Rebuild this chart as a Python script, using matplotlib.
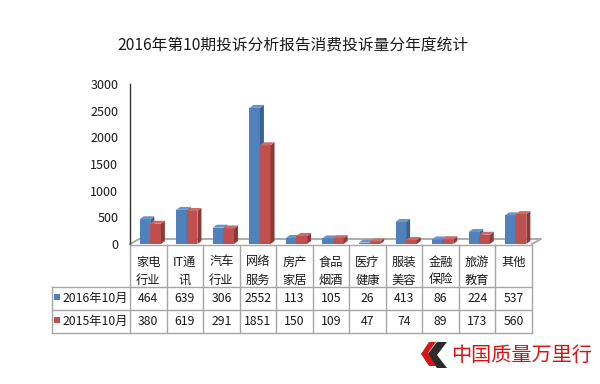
import numpy as np
import matplotlib
matplotlib.use('Agg')
import matplotlib.pyplot as plt
from matplotlib.patches import Polygon

plt.rcParams['font.family'] = ['Noto Sans CJK SC', 'DejaVu Sans']

# data
categories = ['家电\n行业', 'IT通\n讯', '汽车\n行业', '网络\n服务', '房产\n家居', '食品\n烟酒',
              '医疗\n健康', '服装\n美容', '金融\n保险', '旅游\n教育', '其他']
series_names = ['2016年10月', '2015年10月']
v2016 = [464, 639, 306, 2552, 113, 105, 26, 413, 86, 224, 537]
v2015 = [380, 619, 291, 1851, 150, 109, 47, 74, 89, 173, 560]
yticks = [0, 500, 1000, 1500, 2000, 2500, 3000]
title = '2016年第10期投诉分析报告消费投诉量分年度统计'

blue = ['#4F81BD', '#3A6290', '#6A95CC']   # front, side, top
red = ['#C0504D', '#8A3A38', '#CD6966']
grid_c = '#A6A6A6'
txt_c = '#1A1A1A'

W, H = 600, 384
fig = plt.figure(figsize=(W / 100, H / 100), dpi=100)
fig.patch.set_facecolor('white')

# main plot area, pixel box: x 130..532, y 84..244
ax = fig.add_axes([130 / W, (H - 244) / H, 402 / W, 160 / H])
n = len(categories)
x = np.arange(n)
ax.set_xlim(-0.5, n - 0.5)
ax.set_ylim(0, 3000)
ax.set_yticks(yticks)
ax.set_xticks([])
ax.tick_params(axis='y', length=0, pad=8.5, labelsize=9, labelcolor=txt_c)
for s in ['top', 'right', 'bottom']:
    ax.spines[s].set_visible(False)
ax.spines['left'].set_linewidth(1.0)
ax.spines['left'].set_color('#303030')
ax.patch.set_alpha(0)

# depth in data units
px_x = 1 / 36.5
px_y = 3000 / 160
dx, dy = 4 * px_x, 3 * px_y
fdx, fdy = 9 * px_x, 5 * px_y

# floor
ax.plot([-0.5, -0.5 + fdx, n - 0.5 + fdx, n - 0.5],
        [0, fdy, fdy, 0], color=grid_c, lw=1.3, clip_on=False, zorder=1)

w = 0.29


def bar3d(xc, h, cols):
    x0, x1 = xc - w / 2, xc + w / 2
    ax.bar(xc, h, width=w, color=cols[0], zorder=3, linewidth=0)
    side = Polygon([(x1, 0), (x1 + dx, dy), (x1 + dx, h + dy), (x1, h)],
                   closed=True, facecolor=cols[1], edgecolor='none', zorder=3, clip_on=False)
    top = Polygon([(x0, h), (x0 + dx, h + dy), (x1 + dx, h + dy), (x1, h)],
                  closed=True, facecolor=cols[2], edgecolor='none', zorder=3, clip_on=False)
    ax.add_patch(side)
    ax.add_patch(top)


for i in range(n):
    bar3d(x[i] - 0.09, v2016[i], blue)
    bar3d(x[i] + 0.20, v2015[i], red)

# title
fig.text(293 / W, 1 - 46 / H, title, ha='center', va='center', fontsize=11.3, color=txt_c)

# data table below the plot, pixel box y 245..333
ta = fig.add_axes([130 / W, (H - 333) / H, 402 / W, 88 / H])
ta.set_xlim(-0.5, n - 0.5)
ta.set_ylim(88, 0)
ta.axis('off')
left_x = -0.5 - 78 / 36.5
rows_y = [0, 42, 65, 88]
lkw = dict(color=grid_c, lw=1.0, clip_on=False)
ta.plot([-0.5, n - 0.5], [0, 0], **lkw)
for yb in rows_y[1:]:
    ta.plot([left_x, n - 0.5], [yb, yb], **lkw)
for k in range(n + 1):
    ta.plot([k - 0.5, k - 0.5], [0, 88], **lkw)
ta.plot([left_x, left_x], [42, 88], **lkw)

for i, c in enumerate(categories):
    parts = c.split('\n')
    for j, p in enumerate(parts):
        ta.text(x[i], 17 + 18 * j, p, ha='center', va='center', fontsize=8.8, color=txt_c)
    ta.text(x[i], 53.5, str(v2016[i]), ha='center', va='center', fontsize=8.8, color=txt_c)
    ta.text(x[i], 76.5, str(v2015[i]), ha='center', va='center', fontsize=8.8, color=txt_c)

for r, (name, col) in enumerate(zip(series_names, [blue[0], red[0]])):
    yc = 53.5 + 23 * r
    ta.scatter([left_x + 0.14], [yc - 1.5], marker='s', s=22, color=col, clip_on=False, linewidths=0)
    ta.text(left_x + 0.28, yc, name, ha='left', va='center', fontsize=8.8, color=txt_c)

# watermark logo
lg = fig.add_axes([0, 0, 1, 1])
lg.set_xlim(0, W)
lg.set_ylim(H, 0)
lg.axis('off')
lg.add_patch(Polygon([(437, 342), (447, 342), (437, 355), (447, 368), (437, 368), (427, 355)],
                     closed=True, facecolor='#2B2B2B', edgecolor='none'))
lg.add_patch(Polygon([(429, 342), (436, 342), (428, 353), (436, 366), (429, 366), (421, 354)],
                     closed=True, facecolor='#D01818', edgecolor='none'))
lg.text(521, 355, '中国质量万里行', ha='center', va='center', fontsize=14.5,
        color='#D41414', fontweight='medium')

fig.savefig('out.png', dpi=100)
